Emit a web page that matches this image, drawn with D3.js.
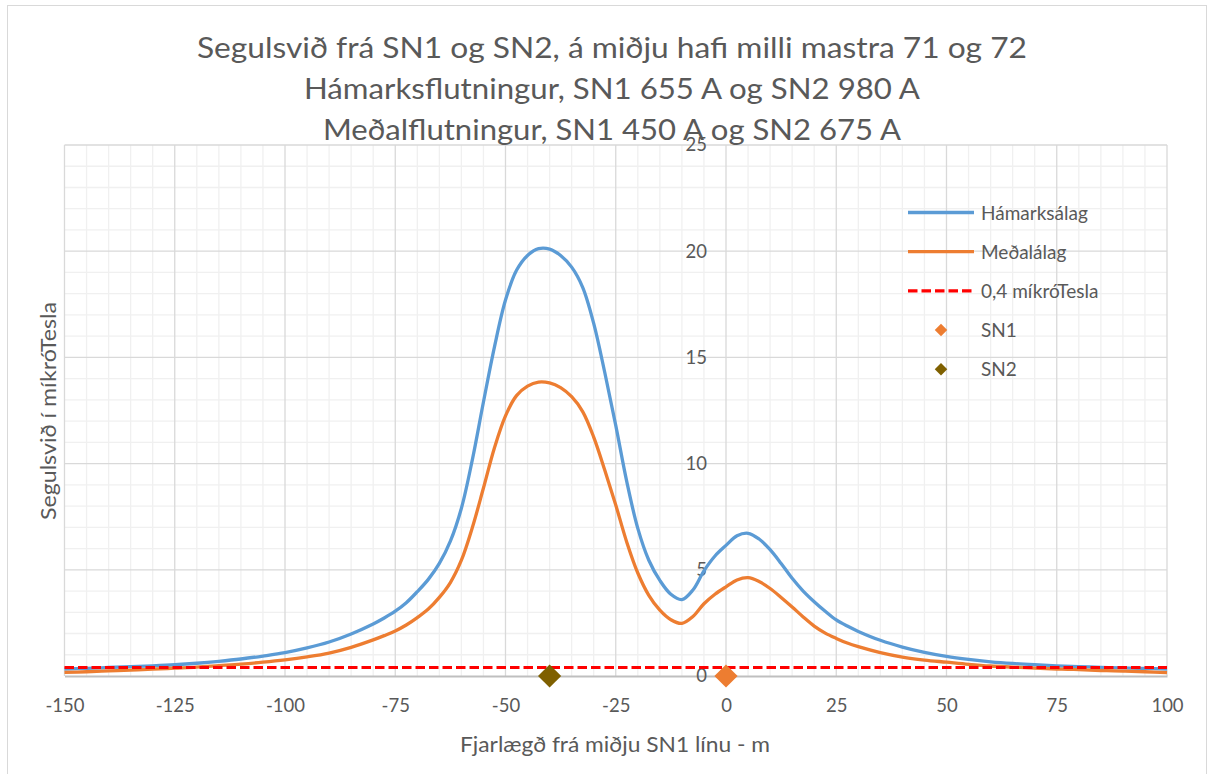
<!DOCTYPE html>
<html>
<head>
<meta charset="utf-8">
<script src="https://cdn.jsdelivr.net/npm/d3@7"></script>
<style>
  html, body { margin: 0; padding: 0; background: #ffffff; }
  svg { display: block; }
  text { font-family: Lato, "Open Sans", sans-serif; fill: #595959; }
</style>
</head>
<body>
<svg id="chart" width="1212" height="774"></svg>
<script>
// ---------------- DATA ----------------
const titleLines = [
  "Segulsvið frá SN1 og SN2, á miðju hafi milli mastra 71 og 72",
  "Hámarksflutningur, SN1 655 A og SN2 980 A",
  "Meðalflutningur, SN1 450 A og SN2 675 A"
];
const xAxisTitle = "Fjarlægð frá miðju SN1 línu - m";
const yAxisTitle = "Segulsvið í míkróTesla";

const distances = [
  -150,-145,-140,-135,-130,-125,-120,-115,-110,-105,-100,-95,-90,-85,-80,
  -77.5,-75,-72.5,-70,-67.5,-65,-62.5,-60,-57.5,-55,-52.5,-50,-47.5,-45,-42.5,-40,
  -37.5,-35,-32.5,-30,-27.5,-25,-22.5,-20,-17.5,-15,-12.5,-10,-7.5,-5,-2.5,0,
  2.5,5,7.5,10,12.5,15,17.5,20,22.5,25,27.5,30,
  35,40,45,50,55,60,65,70,75,80,85,90,95,100
];
const hamarksalag = [
  0.33,0.36,0.40,0.44,0.48,0.53,0.60,0.69,0.80,0.94,1.10,1.32,1.60,1.98,2.45,
  2.73,3.05,3.45,3.97,4.55,5.30,6.35,7.90,10.2,12.9,15.5,17.7,19.1,19.8,20.12,20.1,
  19.8,19.25,18.3,16.6,14.3,11.8,9.15,6.95,5.45,4.50,3.85,3.60,4.05,4.95,5.65,6.15,
  6.60,6.72,6.45,5.95,5.30,4.60,4.00,3.50,3.05,2.64,2.35,2.10,
  1.68,1.36,1.11,0.92,0.78,0.67,0.59,0.53,0.48,0.44,0.41,0.38,0.355,0.33
];
const medalalag = [
  0.17,0.20,0.24,0.28,0.32,0.37,0.42,0.49,0.56,0.65,0.76,0.90,1.08,1.35,1.70,
  1.90,2.12,2.40,2.75,3.15,3.70,4.40,5.45,7.00,8.85,10.75,12.25,13.2,13.65,13.84,13.8,
  13.58,13.15,12.45,11.25,9.7,8.05,6.30,4.85,3.80,3.10,2.65,2.48,2.80,3.40,3.85,4.20,
  4.52,4.63,4.45,4.12,3.70,3.25,2.78,2.35,2.02,1.77,1.55,1.38,
  1.10,0.89,0.75,0.65,0.55,0.47,0.42,0.37,0.33,0.30,0.26,0.23,0.20,0.16
];
const thresholdValue = 0.4;
const thresholdRange = [-150, 100];
const sn1Point = [0, 0];
const sn2Point = [-40, 0];

const xTicks = [-150,-125,-100,-75,-50,-25,0,25,50,75,100];
const yTicks = [0,5,10,15,20,25];
const xMinorStep = 5;
const yMinorStep = 1;

const legendLabels = ["Hámarksálag","Meðalálag","0,4 míkróTesla","SN1","SN2"];

// ---------------- STYLE ----------------
const colBlue = "#5B9BD5", colOrange = "#ED7D31", colRed = "#FF0000", colSN2 = "#7F6000";

const svg = d3.select("#chart");
const plot = {left: 64.5, right: 1167, top: 145, bottom: 676};

const x = d3.scaleLinear().domain([xTicks[0], xTicks[xTicks.length-1]]).range([plot.left, plot.right]);
const y = d3.scaleLinear().domain([yTicks[0], yTicks[yTicks.length-1]]).range([plot.bottom, plot.top]);

// outer chart border
svg.append("rect").attr("x",7.5).attr("y",5.5).attr("width",1199).attr("height",775)
  .attr("fill","#fff").attr("stroke","#d9d9d9").attr("stroke-width",1);

// gridlines
const g = svg.append("g");
const xMinor = d3.range(xTicks[0], xTicks[xTicks.length-1]+0.01, xMinorStep).filter(v => !xTicks.includes(v));
const yMinor = d3.range(yTicks[0], yTicks[yTicks.length-1]+0.01, yMinorStep).filter(v => !yTicks.includes(v));
g.selectAll(".xminor").data(xMinor).join("line")
  .attr("x1",d=>x(d)).attr("x2",d=>x(d)).attr("y1",plot.top).attr("y2",plot.bottom)
  .attr("stroke","#f0f0f0").attr("stroke-width",1.3);
g.selectAll(".yminor").data(yMinor).join("line")
  .attr("y1",d=>y(d)).attr("y2",d=>y(d)).attr("x1",plot.left).attr("x2",plot.right)
  .attr("stroke","#f0f0f0").attr("stroke-width",1.3);
g.selectAll(".xmajor").data(xTicks).join("line")
  .attr("x1",d=>x(d)).attr("x2",d=>x(d)).attr("y1",plot.top).attr("y2",plot.bottom)
  .attr("stroke","#d9d9d9").attr("stroke-width",1.3);
g.selectAll(".ymajor").data(yTicks.filter(v=>v>0)).join("line")
  .attr("y1",d=>y(d)).attr("y2",d=>y(d)).attr("x1",plot.left).attr("x2",plot.right)
  .attr("stroke","#d9d9d9").attr("stroke-width",1.3);

// axes
const fmt = d => String(d);
const xAxis = svg.append("g").attr("transform",`translate(0,${plot.bottom})`)
  .call(d3.axisBottom(x).tickValues(xTicks).tickSize(0).tickSizeOuter(0).tickPadding(23).tickFormat(fmt));
xAxis.select(".domain").attr("stroke","#bfbfbf").attr("stroke-width",2);
xAxis.selectAll("text").style("font-family","Lato, sans-serif").style("font-size","18.5px").attr("fill","#595959");

const yAxis = svg.append("g").attr("transform",`translate(${x(0)},0)`)
  .call(d3.axisLeft(y).tickValues(yTicks).tickSize(0).tickPadding(19).tickFormat(fmt));
yAxis.select(".domain").remove();
yAxis.selectAll("text").style("font-family","Lato, sans-serif").style("font-size","18.5px").attr("fill","#595959");

// series
const pts = (ys) => distances.map((d,i)=>[d, ys[i]]);
const line = d3.line().x(d=>x(d[0])).y(d=>y(d[1])).curve(d3.curveCatmullRom.alpha(0.5));
svg.append("path").attr("d", line(pts(hamarksalag))).attr("fill","none")
  .attr("stroke",colBlue).attr("stroke-width",3.3).attr("stroke-linejoin","round");
svg.append("path").attr("d", line(pts(medalalag))).attr("fill","none")
  .attr("stroke",colOrange).attr("stroke-width",3.3).attr("stroke-linejoin","round");
svg.append("line").attr("x1",x(thresholdRange[0])).attr("x2",x(thresholdRange[1]))
  .attr("y1",y(thresholdValue)).attr("y2",y(thresholdValue))
  .attr("stroke",colRed).attr("stroke-width",3.2).attr("stroke-dasharray","9.5,4");

// markers (diamonds)
const diamond = (area) => d3.symbol(d3.symbolSquare, area)();
svg.append("path").attr("d", diamond(270))
  .attr("transform",`translate(${x(sn1Point[0])},${y(sn1Point[1])}) rotate(45)`).attr("fill",colOrange);
svg.append("path").attr("d", diamond(270))
  .attr("transform",`translate(${x(sn2Point[0])},${y(sn2Point[1])}) rotate(45)`).attr("fill",colSN2);

// titles
svg.selectAll(".title").data(titleLines).join("text")
  .attr("x",612).attr("y",(d,i)=>58+i*41)
  .attr("text-anchor","middle").style("font-size","28px")
  .attr("textLength",(d,i)=>[830,616,578][i]).attr("lengthAdjust","spacingAndGlyphs")
  .text(d=>d);

svg.append("text").attr("x",615).attr("y",752).attr("text-anchor","middle")
  .style("font-size","21px").attr("textLength",310).attr("lengthAdjust","spacingAndGlyphs")
  .text(xAxisTitle);
svg.append("text").attr("transform","translate(56,411) rotate(-90)").attr("text-anchor","middle")
  .style("font-size","21px").attr("textLength",218).attr("lengthAdjust","spacingAndGlyphs")
  .text(yAxisTitle);

// legend
const leg = svg.append("g");
const legX0 = 908, legX1 = 974, legTextX = 981, legY0 = 212.5, legDy = 39.2;
legendLabels.forEach((lab,i)=>{
  const yy = legY0 + i*legDy;
  if (i===0 || i===1) {
    leg.append("line").attr("x1",legX0).attr("x2",legX1).attr("y1",yy).attr("y2",yy)
      .attr("stroke", i===0?colBlue:colOrange).attr("stroke-width",3.3);
  } else if (i===2) {
    leg.append("line").attr("x1",legX0).attr("x2",legX1).attr("y1",yy).attr("y2",yy)
      .attr("stroke",colRed).attr("stroke-width",3.2).attr("stroke-dasharray","9.5,4");
  } else {
    leg.append("path").attr("d", diamond(78))
      .attr("transform",`translate(${(legX0+legX1)/2},${yy}) rotate(45)`)
      .attr("fill", i===3?colOrange:colSN2);
  }
  leg.append("text").attr("x",legTextX).attr("y",yy+7).style("font-size","19px").text(lab);
});
</script>
</body>
</html>
